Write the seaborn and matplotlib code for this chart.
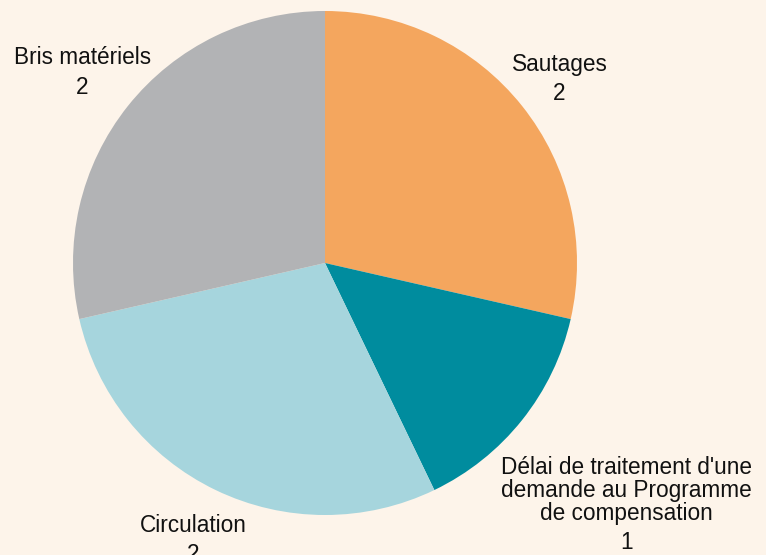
import matplotlib
matplotlib.use('Agg')
import matplotlib.pyplot as plt
import numpy as np
import seaborn as sns

# data
categories = ['Sautages',
              "Délai de traitement d'une\ndemande au Programme\nde compensation",
              'Circulation',
              'Bris matériels']
counts = [2, 1, 2, 2]
colors = ['#F4A65E', '#008C9E', '#A6D5DD', '#B2B3B5']

# where the bottom of each name sits: distance from centre (pie radii)
# and a small turn (degrees) away from the wedge's middle
label_dist = [1.19, 1.586, 1.205, 1.233]
label_turn = [0, -2.4, 0, 0]

bg = '#FDF4EA'
sns.set_style('white', {'axes.facecolor': bg, 'figure.facecolor': bg})
plt.rcParams['font.family'] = ['Liberation Sans', 'DejaVu Sans']

fig = plt.figure(figsize=(7.66, 5.55), dpi=100)
ax = fig.add_axes([73 / 766, 40 / 555, 504 / 766, 504 / 555])

wedges, _ = ax.pie(counts, colors=colors, startangle=90, counterclock=False,
                   wedgeprops={'linewidth': 0})
ax.set_xlim(-1, 1)
ax.set_ylim(-1, 1)
ax.set_aspect('equal')

for w, name, n, d, turn in zip(wedges, categories, counts, label_dist, label_turn):
    ang = np.deg2rad((w.theta1 + w.theta2) / 2 + turn)
    t = ax.text(d * np.cos(ang), d * np.sin(ang), name,
                ha='center', va='bottom', fontsize=16.3, linespacing=1.0,
                color='#111111', clip_on=False)
    # the count goes under the name
    ax.annotate(str(n), xy=(0.5, 0), xycoords=t, xytext=(0, -4.5),
                textcoords='offset points', ha='center', va='top',
                fontsize=16.3, color='#111111', annotation_clip=False)

fig.savefig('out.png', dpi=100, facecolor=bg)
